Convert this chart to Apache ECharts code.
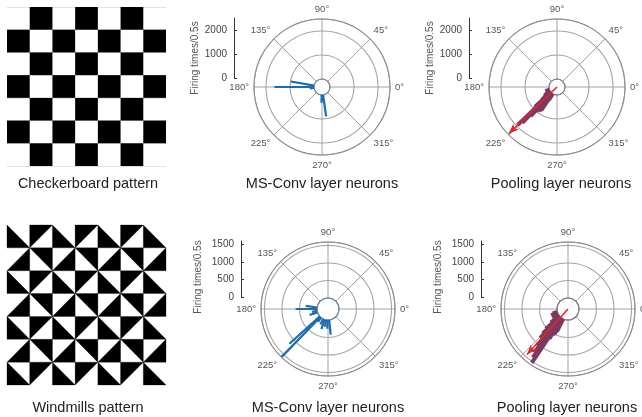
<!DOCTYPE html>
<html><head><meta charset="utf-8">
<script src="https://cdn.jsdelivr.net/npm/echarts@6/dist/echarts.min.js"></script>
<style>html,body{margin:0;padding:0;background:#fff}#c{width:642px;height:417px}</style>
</head><body><div id="c"></div>
<script>
// ---------------- data ----------------
const checkerboard = [
  [0,1,0,1,0,1,0],
  [1,0,1,0,1,0,1],
  [0,1,0,1,0,1,0],
  [1,0,1,0,1,0,1],
  [0,1,0,1,0,1,0],
  [1,0,1,0,1,0,1],
  [0,1,0,1,0,1,0]
];
// windmill cells: code = corner holding the right angle of the black triangle (0 TL,1 TR,2 BR,3 BL)
const windmill = [
  [3,0,3,0,3,0,3],
  [2,1,2,1,2,1,2],
  [3,0,3,0,3,0,3],
  [2,1,2,1,2,1,2],
  [3,0,3,0,3,0,3],
  [2,1,2,1,2,1,2],
  [3,0,3,0,3,0,3]
];
const angleTicks = [0,45,90,135,180,225,270,315];
const topScaleTicks = [0,1000,2000];
const bottomScaleTicks = [0,500,1000,1500];
const topMax = 2500, bottomMax = 1600;

const msConvTopAngles = [180,170,278,268,186,274];
const msConvTopValues = [1650,980,900,320,180,250];
const poolTopAngles = [200,212,214,216,218,220,222,224,226,228,230,232,234,236,238];
const poolTopValues = [180,200,300,250,350,500,900,1950,1750,1300,1000,920,920,830,300];
const poolTopArrow = [2790,224];

const msConvBotAngles = [226,222,180,172,198,252,276,232,260,244,190,268];
const msConvBotValues = [1590,1170,610,330,240,290,420,150,200,180,150,250];
const poolBotAngles = [196,200,212,218,222,224,226,228,230,232,234,236,238,240,242,244];
const poolBotValues = [140,200,200,310,540,690,830,830,1060,1260,1400,1540,690,540,490,400];
const poolBotArrow = [1750,228];

// ---------------- style ----------------
const FONT = 'Liberation Sans';
const BLUE = '#1c6cb0', MAROON = '#7d3a5f', RED = '#e8232a', GRID = '#a3a3a3';

const panels = [
  {cx:322, cy:87, hole:8, outer:68, max:topMax, interval:1000, ticks:topScaleTicks, color:BLUE, angles:msConvTopAngles, values:msConvTopValues, width:2.2, arrow:null, sx:234, title:[195,58]},
  {cx:557, cy:87, hole:8, outer:68, max:topMax, interval:1000, ticks:topScaleTicks, color:MAROON, angles:poolTopAngles, values:poolTopValues, width:4, arrow:poolTopArrow, sx:469, title:[430,58]},
  {cx:328, cy:309, hole:11, outer:67, max:bottomMax, interval:500, ticks:bottomScaleTicks, color:BLUE, angles:msConvBotAngles, values:msConvBotValues, width:2.2, arrow:null, sx:241, title:[198,277]},
  {cx:568, cy:309, hole:11, outer:67, max:bottomMax, interval:500, ticks:bottomScaleTicks, color:MAROON, angles:poolBotAngles, values:poolBotValues, width:4, arrow:poolBotArrow, sx:481, title:[438,277]}
];

const polar = [], angleAxis = [], radiusAxis = [], series = [], grid = [], xAxis = [], yAxis = [], graphic = [];

panels.forEach((p, i) => {
  polar.push({center:[p.cx, p.cy], radius:[p.hole, p.outer]});
  angleAxis.push({
    polarIndex: polar.length-1, type:'value', min:0, max:360, interval:45, startAngle:0, clockwise:false,
    axisLine:{lineStyle:{color:'#8c8c8c', width:1}}, axisTick:{show:false},
    axisLabel:{formatter: v => v === 360 ? '' : v + '°', color:'#555', fontSize:9.5, fontFamily:FONT, margin:5},
    splitLine:{show:true, lineStyle:{color:GRID, width:1}}
  });
  radiusAxis.push({
    polarIndex: polar.length-1, type:'value', min:0, max:p.max, interval:p.interval,
    axisLine:{show:false}, axisTick:{show:false}, axisLabel:{show:false},
    splitLine:{show:true, lineStyle:{color:[p.color, GRID, GRID, GRID, GRID, GRID], width:1.1}}
  });
  const mainIdx = polar.length-1;
  p.angles.forEach((a, k) => {
    series.push({type:'line', coordinateSystem:'polar', polarIndex:mainIdx, data:[[0,a],[p.values[k],a]],
      symbol:'none', lineStyle:{color:p.color, width:p.width}, silent:true, animation:false, z:3});
  });
  if (p.arrow) {
    polar.push({center:[p.cx, p.cy], radius:[0, p.outer]});
    angleAxis.push({polarIndex: polar.length-1, type:'value', min:0, max:360, startAngle:0, clockwise:false, show:false});
    radiusAxis.push({polarIndex: polar.length-1, type:'value', min:0, max:p.max*p.outer/(p.outer-p.hole), show:false});
    series.push({type:'line', coordinateSystem:'polar', polarIndex:polar.length-1,
      data:[{value:[0,p.arrow[1]], symbol:'none'}, {value:[p.arrow[0], p.arrow[1]], symbol:'arrow', symbolSize:[6,10], symbolRotate:p.arrow[1]-90}],
      showSymbol:true, itemStyle:{color:RED}, lineStyle:{color:RED, width:1.6}, silent:true, animation:false, z:5});
  }
  const scale = (p.outer - p.hole) / p.max;
  const zeroY = p.cy - p.hole - 1;
  grid.push({left:p.sx, top: zeroY - p.max*scale, width:1, height:p.max*scale});
  const gi = grid.length-1;
  xAxis.push({gridIndex:gi, type:'value', show:false});
  yAxis.push({gridIndex:gi, type:'value', min:0, max:p.max,
    axisLine:{show:true, lineStyle:{color:'#333', width:1}},
    axisTick:{show:true, inside:true, length:3, customValues:p.ticks, lineStyle:{color:'#333'}},
    axisLabel:{customValues:p.ticks, formatter: v => String(v), color:'#444', fontSize:10, fontFamily:FONT, margin:7},
    splitLine:{show:false}});
  graphic.push({type:'text', x:p.title[0], y:p.title[1], rotation:Math.PI/2,
    style:{text:'Firing times/0.5s', fill:'#555', font:'10px "Liberation Sans"', align:'center', verticalAlign:'middle'}});
});

// checkerboard grid
grid.push({left:7, top:7, width:159, height:159});
const cg = grid.length-1;
xAxis.push({gridIndex:cg, type:'value', min:0, max:7, show:false});
yAxis.push({gridIndex:cg, type:'value', min:0, max:7, inverse:true, interval:1,
  axisLine:{show:false}, axisTick:{show:false}, axisLabel:{show:false},
  splitLine:{show:true, lineStyle:{color:'#e2e2e2', width:1}}});
const checkerData = [];
checkerboard.forEach((row, r) => row.forEach((v, c) => checkerData.push([c, r, v])));
series.push({type:'custom', xAxisIndex:cg, yAxisIndex:cg, data:checkerData, silent:true, animation:false, z:2,
  renderItem:(params, api) => {
    if (!api.value(2)) return null;
    const p0 = api.coord([api.value(0), api.value(1)]);
    const p1 = api.coord([api.value(0)+1, api.value(1)+1]);
    return {type:'rect', shape:{x:p0[0], y:p0[1], width:p1[0]-p0[0], height:p1[1]-p0[1]}, style:{fill:'#000'}};
  }});

// windmill grid
grid.push({left:7, top:225, width:159, height:160});
const wg = grid.length-1;
xAxis.push({gridIndex:wg, type:'value', min:0, max:windmill[0].length, show:false});
yAxis.push({gridIndex:wg, type:'value', min:0, max:windmill.length, inverse:true, show:false});
const windData = [];
windmill.forEach((row, r) => row.forEach((v, c) => windData.push([c, r, v])));
series.push({type:'custom', xAxisIndex:wg, yAxisIndex:wg, data:windData, silent:true, animation:false, z:2,
  renderItem:(params, api) => {
    const c = api.value(0), r = api.value(1), code = api.value(2);
    const TL = api.coord([c, r]), TR = api.coord([c+1, r]), BR = api.coord([c+1, r+1]), BL = api.coord([c, r+1]);
    const tri = [[TL,TR,BL],[TL,TR,BR],[TR,BR,BL],[TL,BR,BL]][code];
    return {type:'polygon', shape:{points:tri}, style:{fill:'#000', stroke:'#000', lineWidth:0.3}};
  }});

// captions
const captions = [
  ['Checkerboard pattern', 88, 184], ['MS-Conv layer neurons', 322, 184], ['Pooling layer neurons', 561, 184],
  ['Windmills pattern', 88, 408], ['MS-Conv layer neurons', 328, 408], ['Pooling layer neurons', 567, 408]
];
captions.forEach(c => graphic.push({type:'text', x:c[1], y:c[2],
  style:{text:c[0], fill:'#222', font:'14.5px "Liberation Sans"', align:'center', verticalAlign:'middle'}}));

const chart = echarts.init(document.getElementById('c'), null, {renderer:'canvas'});
chart.setOption({animation:false, polar, angleAxis, radiusAxis, grid, xAxis, yAxis, series, graphic});
</script></body></html>
